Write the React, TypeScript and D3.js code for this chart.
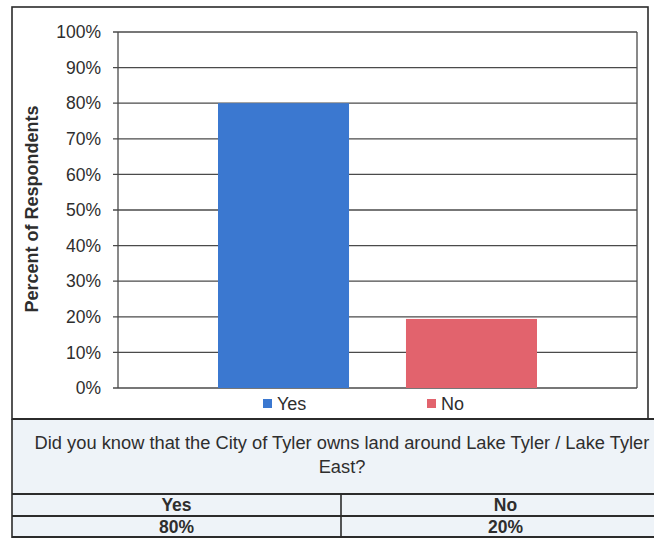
import React from "react";
import * as d3 from "d3";

const categories = ["Did you know"];
const seriesNames = ["Yes", "No"];
const seriesValues = [80, 19.4];
const seriesColors = ["#3b78d0", "#e2636d"];
const yTicks = [0, 10, 20, 30, 40, 50, 60, 70, 80, 90, 100];
const questionLines = [
  "Did you know that the City of Tyler owns land around Lake Tyler / Lake Tyler",
  "East?",
];
const tableHeaders = ["Yes", "No"];
const tableValues = ["80%", "20%"];

const W = 654;
const H = 538;
const FONT = "'Liberation Sans', Arial, sans-serif";

export default function App() {
  const plotL = 118, plotR = 637, plotT = 32, plotB = 388;
  const y = d3.scaleLinear().domain([0, 100]).range([plotB, plotT]);
  const x0 = d3.scaleBand<string>().domain(categories).range([plotL, plotR]).paddingInner(0).paddingOuter(0.3135);
  const x1 = d3.scaleBand<string>().domain(seriesNames).range([0, x0.bandwidth()]).paddingInner(0.303).paddingOuter(0);

  const tableL = 12, tableR = 670, tableT = 419, rowA = 494, rowB = 516, tableB = 538;
  const colDiv = 341;
  const colX = d3.scaleBand<string>().domain(tableHeaders).range([tableL, tableR]);

  const legendItems = [
    { name: seriesNames[0], x: 263, color: seriesColors[0] },
    { name: seriesNames[1], x: 427, color: seriesColors[1] },
  ];

  return (
    <svg width={W} height={H} style={{ position: "absolute", left: 0, top: 0, background: "#fff" }} fontFamily={FONT}>
      {/* table background */}
      <rect x={tableL} y={tableT} width={tableR - tableL} height={tableB - tableT} fill="#eef3f8" />
      {/* chart area */}
      <rect x={12} y={7} width={636} height={412} fill="#fff" stroke="#2b2b2b" strokeWidth={1.6} />

      {/* gridlines and ticks */}
      {yTicks.map((t) => (
        <g key={t}>
          <line x1={plotL - 5} x2={plotR} y1={y(t)} y2={y(t)} stroke="#4a4a4a" strokeWidth={1.3} />
          <text x={101} y={y(t)} dy="0.35em" textAnchor="end" fontSize={17.5} fill="#2e2e2e">
            {t}%
          </text>
        </g>
      ))}
      <line x1={plotL} x2={plotL} y1={plotT} y2={plotB} stroke="#4a4a4a" strokeWidth={1.3} />
      <line x1={plotR} x2={plotR} y1={plotT} y2={plotB} stroke="#4a4a4a" strokeWidth={1.3} />

      {/* bars */}
      {categories.map((c) => (
        <g key={c} transform={`translate(${x0(c)},0)`}>
          {seriesNames.map((s, i) => (
            <rect
              key={s}
              x={x1(s)}
              y={y(seriesValues[i])}
              width={x1.bandwidth()}
              height={y(0) - y(seriesValues[i])}
              fill={seriesColors[i]}
            />
          ))}
        </g>
      ))}

      {/* y axis title */}
      <text
        transform={`translate(38,209) rotate(-90)`}
        textAnchor="middle"
        fontSize={18}
        fontWeight="bold"
        fill="#2e2e2e"
      >
        Percent of Respondents
      </text>

      {/* legend */}
      {legendItems.map((l) => (
        <g key={l.name}>
          <rect x={l.x} y={399} width={9} height={9} fill={l.color} />
          <text x={l.x + 14} y={404} dy="0.35em" fontSize={18} fill="#2e2e2e">
            {l.name}
          </text>
        </g>
      ))}

      {/* table */}
      <line x1={tableL} x2={tableL} y1={tableT} y2={tableB} stroke="#2b2b2b" strokeWidth={1.6} />
      <line x1={tableL} x2={tableR} y1={tableT} y2={tableT} stroke="#2b2b2b" strokeWidth={1.8} />
      <line x1={tableL} x2={tableR} y1={rowA} y2={rowA} stroke="#2b2b2b" strokeWidth={1.8} />
      <line x1={tableL} x2={tableR} y1={rowB} y2={rowB} stroke="#2b2b2b" strokeWidth={1.8} />
      <line x1={tableL} x2={tableR} y1={tableB - 1} y2={tableB - 1} stroke="#2b2b2b" strokeWidth={1.8} />
      <line x1={colDiv} x2={colDiv} y1={rowA} y2={tableB} stroke="#2b2b2b" strokeWidth={1.6} />
      {questionLines.map((q, i) => (
        <text key={i} x={342} y={443 + i * 24} dy="0.35em" textAnchor="middle" fontSize={18.3} fill="#2e2e2e">
          {q}
        </text>
      ))}
      {tableHeaders.map((h, i) => (
        <g key={h}>
          <text x={(colX(h) ?? 0) + colX.bandwidth() / 2} y={505} dy="0.35em" textAnchor="middle" fontSize={17.5} fontWeight="bold" fill="#2e2e2e">
            {h}
          </text>
          <text x={(colX(h) ?? 0) + colX.bandwidth() / 2} y={527} dy="0.35em" textAnchor="middle" fontSize={17.5} fontWeight="bold" fill="#2e2e2e">
            {tableValues[i]}
          </text>
        </g>
      ))}
    </svg>
  );
}
